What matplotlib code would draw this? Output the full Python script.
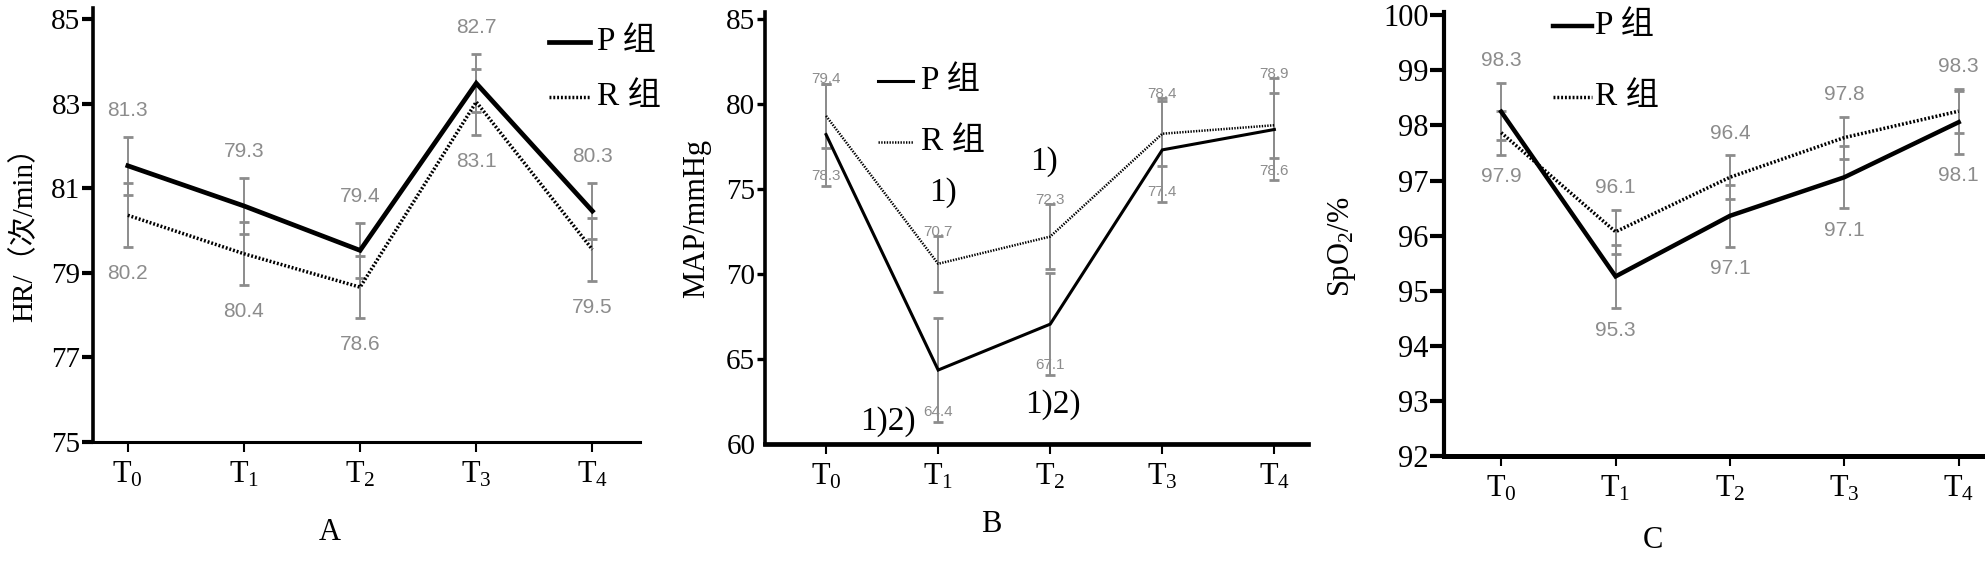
import numpy as np
import matplotlib.pyplot as plt
from matplotlib.lines import Line2D

plt.rcParams['font.family'] = ['Liberation Serif', 'Noto Sans CJK SC']
plt.rcParams['mathtext.fontset'] = 'custom'
plt.rcParams['mathtext.rm'] = 'Liberation Serif'
plt.rcParams['mathtext.it'] = 'Liberation Serif:italic'

times = ['T$_0$', 'T$_1$', 'T$_2$', 'T$_3$', 'T$_4$']
groups = ['P 组', 'R 组']

# A: HR
hr_p = [81.53, 80.58, 79.53, 83.48, 80.46]
hr_r = [80.36, 79.45, 78.66, 83.04, 79.55]
hr_p_err = [0.68, 0.66, 0.65, 0.69, 0.67]
hr_r_err = [0.76, 0.75, 0.73, 0.78, 0.75]
hr_top = ['81.3', '79.3', '79.4', '82.7', '80.3']
hr_bot = ['80.2', '80.4', '78.6', '83.1', '79.5']

# B: MAP
map_p = [78.2, 64.35, 67.05, 77.3, 78.5]
map_r = [79.3, 70.6, 72.2, 78.25, 78.75]
map_p_err = [3.0, 3.05, 3.0, 3.05, 3.0]
map_r_err = [1.9, 1.65, 1.9, 1.9, 1.9]
map_top = ['79.4', '70.7', '72.3', '78.4', '78.9']
map_bot = ['78.3', '64.4', '67.1', '77.4', '78.6']

# C: SpO2
spo2_p = [98.25, 95.26, 96.36, 97.06, 98.06]
spo2_r = [97.87, 96.07, 97.06, 97.78, 98.26]
spo2_p_err = [0.52, 0.57, 0.56, 0.56, 0.57]
spo2_r_err = [0.40, 0.40, 0.40, 0.38, 0.40]
spo2_top = ['98.3', '96.1', '96.4', '97.8', '98.3']
spo2_bot = ['97.9', '95.3', '97.1', '97.1', '98.1']

W, H = 1985, 564
gray = '#8c8c8c'
num_font = 'Liberation Sans'
dots = (0, (0.55, 0.55))

fig = plt.figure(figsize=(W / 100, H / 100), dpi=100)


def px_axes(x0, x1, ytop, ybot):
    return fig.add_axes([x0 / W, 1 - ybot / H, (x1 - x0) / W, (ybot - ytop) / H])


def panel(ax, p, r, pe, re, top, bot, lw_p, lw_r, spine_lw, ytick_len, ytick_w,
          lab_size, top_off, bot_off):
    x = np.arange(len(p))
    ax.errorbar(x, p, yerr=pe, fmt='none', ecolor=gray, elinewidth=1.4,
                capsize=3.3, capthick=2.0, zorder=1)
    ax.errorbar(x, r, yerr=re, fmt='none', ecolor=gray, elinewidth=1.4,
                capsize=3.3, capthick=2.0, zorder=1)
    ax.plot(x, p, color='black', lw=lw_p, solid_joinstyle='miter', zorder=3)
    ax.plot(x, r, color='black', lw=lw_r, ls=dots, zorder=3)
    hi = np.maximum(np.array(p) + pe, np.array(r) + re)
    lo = np.minimum(np.array(p) - pe, np.array(r) - re)
    for i in range(len(p)):
        ax.annotate(top[i], (x[i], hi[i]), xytext=(0, top_off), textcoords='offset points',
                    ha='center', va='center', color=gray, fontsize=lab_size, family=num_font)
        ax.annotate(bot[i], (x[i], lo[i]), xytext=(0, bot_off), textcoords='offset points',
                    ha='center', va='center', color=gray, fontsize=lab_size, family=num_font)
    ax.set_xticks(x)
    ax.set_xticklabels(times, fontsize=22)
    for s in ['top', 'right']:
        ax.spines[s].set_visible(False)
    ax.spines['left'].set_linewidth(spine_lw[0])
    ax.spines['bottom'].set_linewidth(spine_lw[1])
    ax.tick_params(axis='x', direction='out', length=7, width=1.5, pad=6)
    ax.tick_params(axis='y', direction='out', length=ytick_len, width=ytick_w, pad=1,
                   labelsize=21)


def legend(x0, x1, xt, ys, lw_p, lw_r):
    styles = [dict(lw=lw_p), dict(lw=lw_r, ls=dots)]
    for name, y, st in zip(groups, ys, styles):
        fig.add_artist(Line2D([x0 / W, x1 / W], [1 - y / H, 1 - y / H], color='black',
                              transform=fig.transFigure, **st))
        fig.text(xt / W, 1 - y / H, name, ha='left', va='center', fontsize=24)


# panel A
axA = px_axes(93, 640, 8, 442)
panel(axA, hr_p, hr_r, hr_p_err, hr_r_err, hr_top, hr_bot, 3.4, 2.5,
      (2.6, 2.2), 8, 3.0, 15, 19, -19)
axA.set_xlim(-0.30, 4.41)
axA.set_ylim(75, 85.26)
axA.set_yticks([75, 77, 79, 81, 83, 85])
legend(549, 590, 597, (42, 97), 3.4, 2.5)

# panel B
axB = px_axes(765, 1308, 12, 444)
panel(axB, map_p, map_r, map_p_err, map_r_err, map_top, map_bot, 2.2, 1.8,
      (2.6, 3.4), 6, 2.4, 11, 3, 7)
axB.set_xlim(-0.545, 4.30)
axB.set_ylim(60, 85.41)
axB.set_yticks([60, 65, 70, 75, 80, 85])
axB.yaxis.get_major_ticks()[0].tick1line.set_visible(False)
legend(878, 913, 921, (81, 142), 2.2, 1.8)
axB.text(0.55, 61.3, '1)2)', fontsize=24, ha='center', va='center')
axB.text(1.04, 74.8, '1)', fontsize=24, ha='center', va='center')
axB.text(1.94, 76.6, '1)', fontsize=24, ha='center', va='center')
axB.text(2.02, 62.3, '1)2)', fontsize=24, ha='center', va='center')

# panel C
axC = px_axes(1444, 1985, 12, 456)
panel(axC, spo2_p, spo2_r, spo2_p_err, spo2_r_err, spo2_top, spo2_bot, 3.2, 2.5,
      (3.0, 3.6), 10, 3.0, 15, 16, -16)
axC.set_xlim(-0.50, 4.23)
axC.set_ylim(92, 100.06)
axC.set_yticks(np.arange(92, 101))
axC.tick_params(axis='y', labelsize=22)
legend(1553, 1592, 1595, (26, 97), 3.2, 2.5)

# axis titles
fig.text(24 / W, 1 - 227 / H, 'HR/（次/min）', rotation=90, ha='center', va='center', fontsize=21)
fig.text(697 / W, 1 - 218 / H, 'MAP/mmHg', rotation=90, ha='center', va='center', fontsize=22)
fig.text(1342 / W, 1 - 247 / H, 'SpO$_2$/%', rotation=90, ha='center', va='center', fontsize=22)
fig.text(330 / W, 1 - 532 / H, 'A', ha='center', va='center', fontsize=22)
fig.text(991 / W, 1 - 525 / H, 'B', ha='center', va='center', fontsize=22)
fig.text(1653 / W, 1 - 541 / H, 'C', ha='center', va='center', fontsize=22)

fig.savefig('out.png', dpi=100)
